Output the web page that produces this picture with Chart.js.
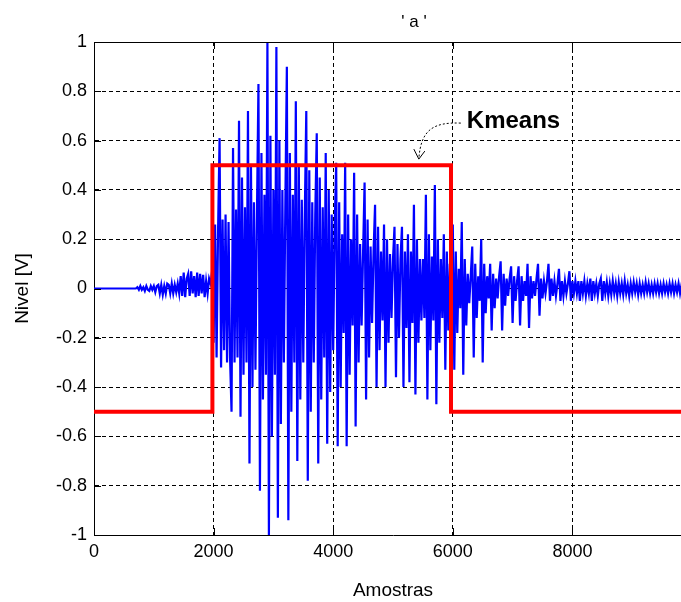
<!DOCTYPE html>
<html lang="pt">
<head>
<meta charset="utf-8">
<title>Kmeans - vogal a</title>
<script src="https://cdn.jsdelivr.net/npm/chart.js@4.4.1/dist/chart.umd.min.js"></script>
<style>
  html, body { margin: 0; padding: 0; background: #fff; overflow: hidden; }
  canvas { display: block; }
</style>
</head>
<body>
<canvas id="grafico" width="692" height="602"></canvas>
<script>
// Sinal da vogal 'a', uma leitura a cada 25 amostras
const passoAmostras = 25;
const nivel = [
  0, 0, 0, 0, 0, 0, 0, 0, 0, 0,
  0, 0, 0, 0, 0, 0, 0, 0, 0, 0,
  0, 0, 0, 0, 0, 0, 0, 0, 0, 0.005,
  -0.005, 0.01, -0.005, 0.005, -0.01, 0.01, -0.005, -0.01, 0.01, -0.005,
  0.01, -0.015, 0.01, 0.015, -0.02, 0.015, -0.025, 0.01, -0.02, 0.02,
  0.015, -0.02, 0.02, -0.02, 0.015, -0.015, 0.02, -0.02, 0.05, -0.03,
  0.065, -0.035, 0.04, 0.06, -0.03, 0.07, -0.02, 0.05, -0.035, 0.065,
  -0.03, 0.06, -0.02, 0.055, -0.035, 0.03, -0.02, 0.04, 0.02, 0.07,
  -0.22, 0.26, -0.28, 0.24, 0.61, -0.32, 0.28, -0.25, 0.30, -0.30,
  0.27, -0.28, -0.50, 0.57, -0.30, 0.32, -0.28, 0.68, -0.52, 0.45,
  -0.35, 0.33, -0.30, 0.72, -0.71, 0.50, -0.40, 0.35, -0.33, 0.30,
  0.83, -0.82, 0.55, -0.45, 0.38, -0.35, 1.0, -1.0, 0.62, -0.60,
  0.40, -0.35, 0.98, -0.93, 0.60, -0.55, 0.40, -0.30, 0.35, 0.90,
  -0.94, 0.55, -0.50, 0.38, -0.30, 0.76, -0.70, 0.50, -0.45, 0.36,
  -0.30, 0.30, 0.72, -0.78, 0.48, -0.50, 0.35, -0.30, 0.30, 0.63,
  -0.71, 0.45, -0.45, 0.33, -0.28, 0.55, -0.63, 0.40, -0.42, 0.30,
  -0.25, 0.25, 0.51, -0.64, 0.35, -0.40, 0.22, -0.18, 0.51, -0.64,
  0.30, -0.35, 0.20, -0.15, 0.47, -0.56, 0.30, -0.30, 0.18, -0.15,
  0.15, 0.43, -0.45, 0.28, -0.28, 0.17, -0.14, 0.15, 0.34, -0.40,
  0.25, -0.25, 0.15, -0.13, 0.26, -0.40, 0.20, -0.22, 0.14, -0.12,
  0.12, 0.25, -0.36, 0.18, -0.20, 0.12, 0.25, -0.40, 0.15, -0.16,
  0.22, -0.38, 0.15, -0.14, 0.34, -0.43, 0.20, -0.22, 0.12, -0.13,
  0.12, -0.12, 0.38, -0.45, 0.22, -0.25, 0.13, -0.13, 0.42, -0.47,
  0.20, -0.22, 0.12, -0.12, 0.22, -0.33, 0.15, -0.17, 0.10, -0.10,
  0.26, -0.33, 0.15, -0.18, 0.08, -0.08, 0.27, -0.35, 0.12, -0.15,
  0.06, -0.06, 0.05, 0.17, -0.28, 0.10, -0.12, 0.05, -0.05, 0.20,
  -0.30, 0.10, -0.10, 0.05, -0.04, 0.10, -0.17, 0.06, -0.08, 0.04,
  -0.04, 0.05, 0.11, -0.17, 0.06, -0.07, 0.04, -0.03, 0.04, 0.09,
  -0.14, 0.05, -0.05, 0.03, 0.09, -0.15, 0.05, -0.05, 0.03, -0.03,
  0.10, -0.16, 0.05, -0.04, 0.03, -0.03, 0.04, 0.10, -0.11, 0.04,
  -0.04, 0.03, -0.02, 0.03, 0.10, -0.05, 0.04, -0.03, 0.03, -0.03,
  0.02, 0.08, -0.05, 0.03, -0.03, 0.03, -0.02, 0.02, 0.07, -0.05,
  0.03, -0.02, 0.03, -0.02, 0.03, -0.05, 0.03, -0.02, 0.03, -0.03,
  0.02, -0.02, 0.04, -0.05, 0.03, -0.02, 0.02, -0.03, 0.02, 0.04,
  -0.05, 0.03, -0.02, 0.025, -0.03, 0.02, -0.025, 0.03, -0.02, 0.02,
  -0.03, 0.025, -0.02, 0.02, -0.025, 0.03, -0.02, 0.015, -0.03, 0.02,
  -0.02, 0.025, -0.015, 0.02, -0.025, 0.02, -0.02, 0.015, -0.02, 0.025,
  -0.015, 0.02, -0.02, 0.015, -0.02, 0.02, -0.015, 0.02, -0.02, 0.015,
  -0.02, 0.02, -0.015, 0.015, -0.02, 0.02, -0.015, 0.02, -0.02, 0.015,
  -0.015, 0.02, -0.02, 0.015, -0.015, 0.02, -0.015, 0.02, -0.02, 0.015
];

// Saída do Kmeans (degraus): início de cada trecho e o nível dele
const kmeansAmostras = [0, 1980, 5970, 10000];
const kmeansNivel = [-0.5, 0.5, -0.5, -0.5];

const ticksX = [0, 2000, 4000, 6000, 8000];
const ticksY = [-1, -0.8, -0.6, -0.4, -0.2, 0, 0.2, 0.4, 0.6, 0.8, 1];
const rotulosY = ['-1', '-0.8', '-0.6', '-0.4', '-0.2', '0', '0.2', '0.4', '0.6', '0.8', '1'];

const titulo = "' a '";
const rotuloKmeans = 'Kmeans';
// onde fica o texto da anotação e a ponta da seta (em amostras / volts)
const anotTexto = { x: 6234, y: 0.68 };
const anotInicio = { x: 6134, y: 0.671 };
const anotPonta = { x: 5432, y: 0.525 };

const fonte = '"Liberation Sans", Arial, Helvetica, sans-serif';
Chart.defaults.font.family = fonte;
Chart.defaults.color = '#000';

const sinal = nivel.map((v, i) => ({ x: i * passoAmostras, y: v }));
const degraus = kmeansAmostras.map((a, i) => ({ x: a, y: kmeansNivel[i] }));

// Moldura de cima, marcas para dentro, título e anotação do Kmeans
const extras = {
  id: 'extras',
  afterDatasetsDraw(chart) {
    const { ctx, chartArea: area, scales: { x, y } } = chart;
    ctx.save();
    ctx.strokeStyle = '#000';
    ctx.lineWidth = 1;
    ctx.beginPath();
    ctx.moveTo(area.left, Math.round(area.top) + 0.5);
    ctx.lineTo(area.right, Math.round(area.top) + 0.5);
    ctx.stroke();

    const tam = 7;
    ctx.beginPath();
    ticksX.forEach(v => {
      const px = Math.round(x.getPixelForValue(v)) + 0.5;
      ctx.moveTo(px, area.bottom); ctx.lineTo(px, area.bottom - tam);
      ctx.moveTo(px, area.top); ctx.lineTo(px, area.top + tam);
    });
    ticksY.forEach(v => {
      const py = Math.round(y.getPixelForValue(v)) + 0.5;
      ctx.moveTo(area.left, py); ctx.lineTo(area.left + tam, py);
    });
    ctx.stroke();

    // seta tracejada
    const ix = x.getPixelForValue(anotInicio.x), iy = y.getPixelForValue(anotInicio.y);
    const tx = x.getPixelForValue(anotPonta.x), ty = y.getPixelForValue(anotPonta.y);
    ctx.setLineDash([2, 2]);
    ctx.beginPath();
    ctx.moveTo(ix, iy);
    ctx.bezierCurveTo(ix - 27, iy - 1, tx + 2, iy + 6, tx, ty);
    ctx.stroke();
    ctx.setLineDash([]);
    ctx.beginPath();
    ctx.moveTo(tx - 5, ty - 10); ctx.lineTo(tx, ty); ctx.lineTo(tx + 6, ty - 8);
    ctx.stroke();

    ctx.font = 'bold 24px ' + fonte;
    ctx.fillStyle = '#000';
    ctx.textAlign = 'left';
    ctx.textBaseline = 'middle';
    ctx.fillText(rotuloKmeans, x.getPixelForValue(anotTexto.x), y.getPixelForValue(anotTexto.y));

    ctx.font = '17px ' + fonte;
    ctx.textAlign = 'center';
    ctx.fillText(titulo, 414, 22);
    ctx.restore();
  }
};

new Chart(document.getElementById('grafico'), {
  type: 'line',
  data: {
    datasets: [
      {
        label: 'Kmeans',
        data: degraus,
        stepped: 'before',
        borderColor: '#ff0000',
        borderWidth: 4,
        pointRadius: 0,
        fill: false
      },
      {
        label: 'Sinal',
        data: sinal,
        borderColor: '#0000ff',
        borderWidth: 2.2,
        pointRadius: 0,
        tension: 0,
        fill: false
      }
    ]
  },
  options: {
    responsive: false,
    animation: false,
    events: [],
    layout: { padding: { top: 42, left: 0, right: 0, bottom: 0 } },
    plugins: {
      legend: { display: false },
      tooltip: { enabled: false }
    },
    scales: {
      x: {
        type: 'linear',
        min: 0,
        max: 10000,
        afterBuildTicks: s => { s.ticks = ticksX.map(v => ({ value: v })); },
        afterFit: s => { s.height = 67; },
        ticks: { font: { size: 18 }, padding: 6, maxRotation: 0, callback: v => String(v) },
        grid: { color: '#000', lineWidth: 1, drawTicks: false },
        border: { color: '#000', width: 1, dash: [4, 3] },
        title: { display: true, text: 'Amostras', font: { size: 19 }, padding: { top: 0, bottom: 0 } }
      },
      y: {
        min: -1,
        max: 1,
        afterBuildTicks: s => { s.ticks = ticksY.map(v => ({ value: v })); },
        afterFit: s => { s.width = 94; },
        ticks: { font: { size: 18 }, padding: 7, callback: v => rotulosY[ticksY.indexOf(v)] },
        grid: { color: '#000', lineWidth: 1, drawTicks: false },
        border: { color: '#000', width: 1, dash: [4, 3] },
        title: { display: true, text: 'Nivel [V]', font: { size: 19 }, padding: { top: 11, bottom: 0 } }
      }
    }
  },
  plugins: [extras]
});
</script>
</body>
</html>
